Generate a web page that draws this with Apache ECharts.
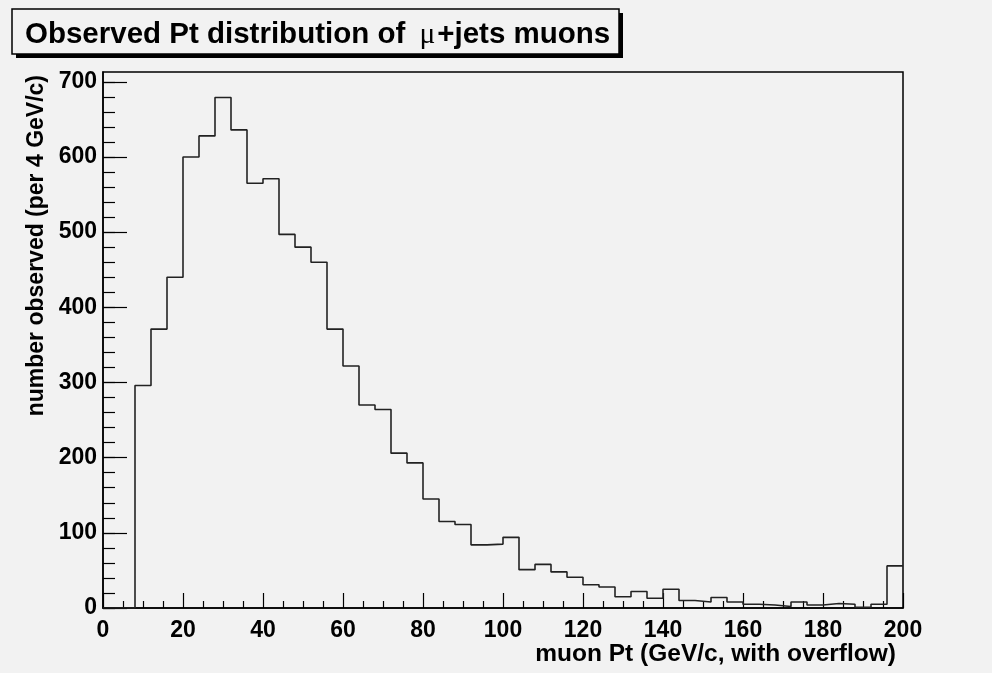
<!DOCTYPE html>
<html>
<head>
<meta charset="utf-8">
<script src="https://cdn.jsdelivr.net/npm/echarts@6/dist/echarts.min.js"></script>
<style>
  html, body { margin: 0; padding: 0; background: #f2f2f2; }
  #main { width: 992px; height: 673px; }
</style>
</head>
<body>
<div id="main"></div>
<script>
// histogram: 50 bins of 4 GeV/c from 0 to 200 (last bin holds overflow)
const xMin = 0
const binWidth = 4
const counts = [
  0, 0, 296, 371, 440, 600, 628, 679, 636, 565,
  571, 497, 480, 460, 371, 322, 270, 264, 206, 193,
  145, 115, 111, 84, 85, 94, 51, 58, 48, 41,
  31, 28, 15, 22, 13, 25, 10, 8, 14, 8,
  5, 4, 2, 8, 4, 6, 5, 1, 5, 56
]
const yMajorTicks = [0, 100, 200, 300, 400, 500, 600, 700]
const yMinorTicks = [0, 20, 40, 60, 80, 100, 120, 140, 160, 180, 200, 220, 240, 260, 280, 300,
  320, 340, 360, 380, 400, 420, 440, 460, 480, 500, 520, 540, 560, 580, 600, 620, 640, 660, 680, 700]
const titleText = 'Observed Pt distribution of {mu|μ}+jets muons'
const xTitle = 'muon Pt (GeV/c, with overflow)'
const yTitle = 'number observed (per 4 GeV/c)'

// step points at the bin low edges, plus the closing upper edge
let stepData = counts.map((v, i) => [xMin + i * binWidth, v])
stepData.push([xMin + counts.length * binWidth, counts[counts.length - 1]])

const font = 'Liberation Sans, Arial, Helvetica, sans-serif'

var myChart = echarts.init(document.getElementById('main'))
let option = {
  backgroundColor: '#f2f2f2',
  animation: false,
  title: {
    text: titleText,
    left: 25,
    top: 20,
    padding: 0,
    z: 10,
    textStyle: {
      fontFamily: font,
      fontWeight: 'bold',
      fontSize: 29.5,
      color: '#000',
      rich: {
        mu: { fontFamily: 'Liberation Serif, DejaVu Serif, serif', fontWeight: 'normal', fontSize: 29.5, color: '#000', padding: [0, 2, 0, 6] }
      }
    }
  },
  grid: {
    left: 103, right: 89, top: 72, bottom: 65,
    show: true, borderColor: '#000', borderWidth: 1.5, backgroundColor: 'transparent'
  },
  xAxis: {
    type: 'value',
    min: 0, max: 200, interval: 20,
    axisLine: { show: true, onZero: false, lineStyle: { color: '#000', width: 1.5 } },
    axisTick: { show: true, inside: true, length: 15, lineStyle: { color: '#000', width: 1.2 } },
    minorTick: { show: true, splitNumber: 4, length: 7, lineStyle: { color: '#000', width: 1.2 } },
    splitLine: { show: false },
    axisLabel: { margin: 11, color: '#000', fontFamily: font, fontWeight: 'bold', fontSize: 23 }
  },
  yAxis: [{
    type: 'value',
    min: 0, max: 713,
    axisLine: { show: true, lineStyle: { color: '#000', width: 1.5 } },
    axisTick: { show: true, inside: true, length: 24, customValues: yMajorTicks, lineStyle: { color: '#000', width: 1.2 } },
    splitLine: { show: false },
    axisLabel: { customValues: yMajorTicks, margin: 6, color: '#000', fontFamily: font, fontWeight: 'bold', fontSize: 23 }
  }, {
    type: 'value',
    position: 'left',
    min: 0, max: 713,
    axisLine: { show: false },
    axisTick: { show: true, inside: true, length: 12, customValues: yMinorTicks, lineStyle: { color: '#000', width: 1.2 } },
    splitLine: { show: false },
    axisLabel: { show: false }
  }],
  graphic: [{
    // title box shadow
    type: 'rect', z: 1,
    shape: { x: 16, y: 13, width: 607, height: 45 },
    style: { fill: '#000' }
  }, {
    // title box
    type: 'rect', z: 2,
    shape: { x: 12, y: 9, width: 607, height: 45 },
    style: { fill: '#f2f2f2', stroke: '#000', lineWidth: 1.5 }
  }, {
    type: 'text',
    x: 37, y: 75,
    rotation: Math.PI / 2,
    style: { text: yTitle, font: 'bold 23px ' + font, fill: '#000', align: 'right', verticalAlign: 'middle' }
  }, {
    type: 'text',
    x: 896, y: 654,
    style: { text: xTitle, font: 'bold 24.5px ' + font, fill: '#000', align: 'right', verticalAlign: 'middle' }
  }],
  series: [{
    type: 'line',
    step: 'end',
    data: stepData,
    showSymbol: false,
    clip: true,
    lineStyle: { color: '#222', width: 1.6 },
    emphasis: { disabled: true }
  }]
}
option && myChart.setOption(option)
</script>
</body>
</html>
